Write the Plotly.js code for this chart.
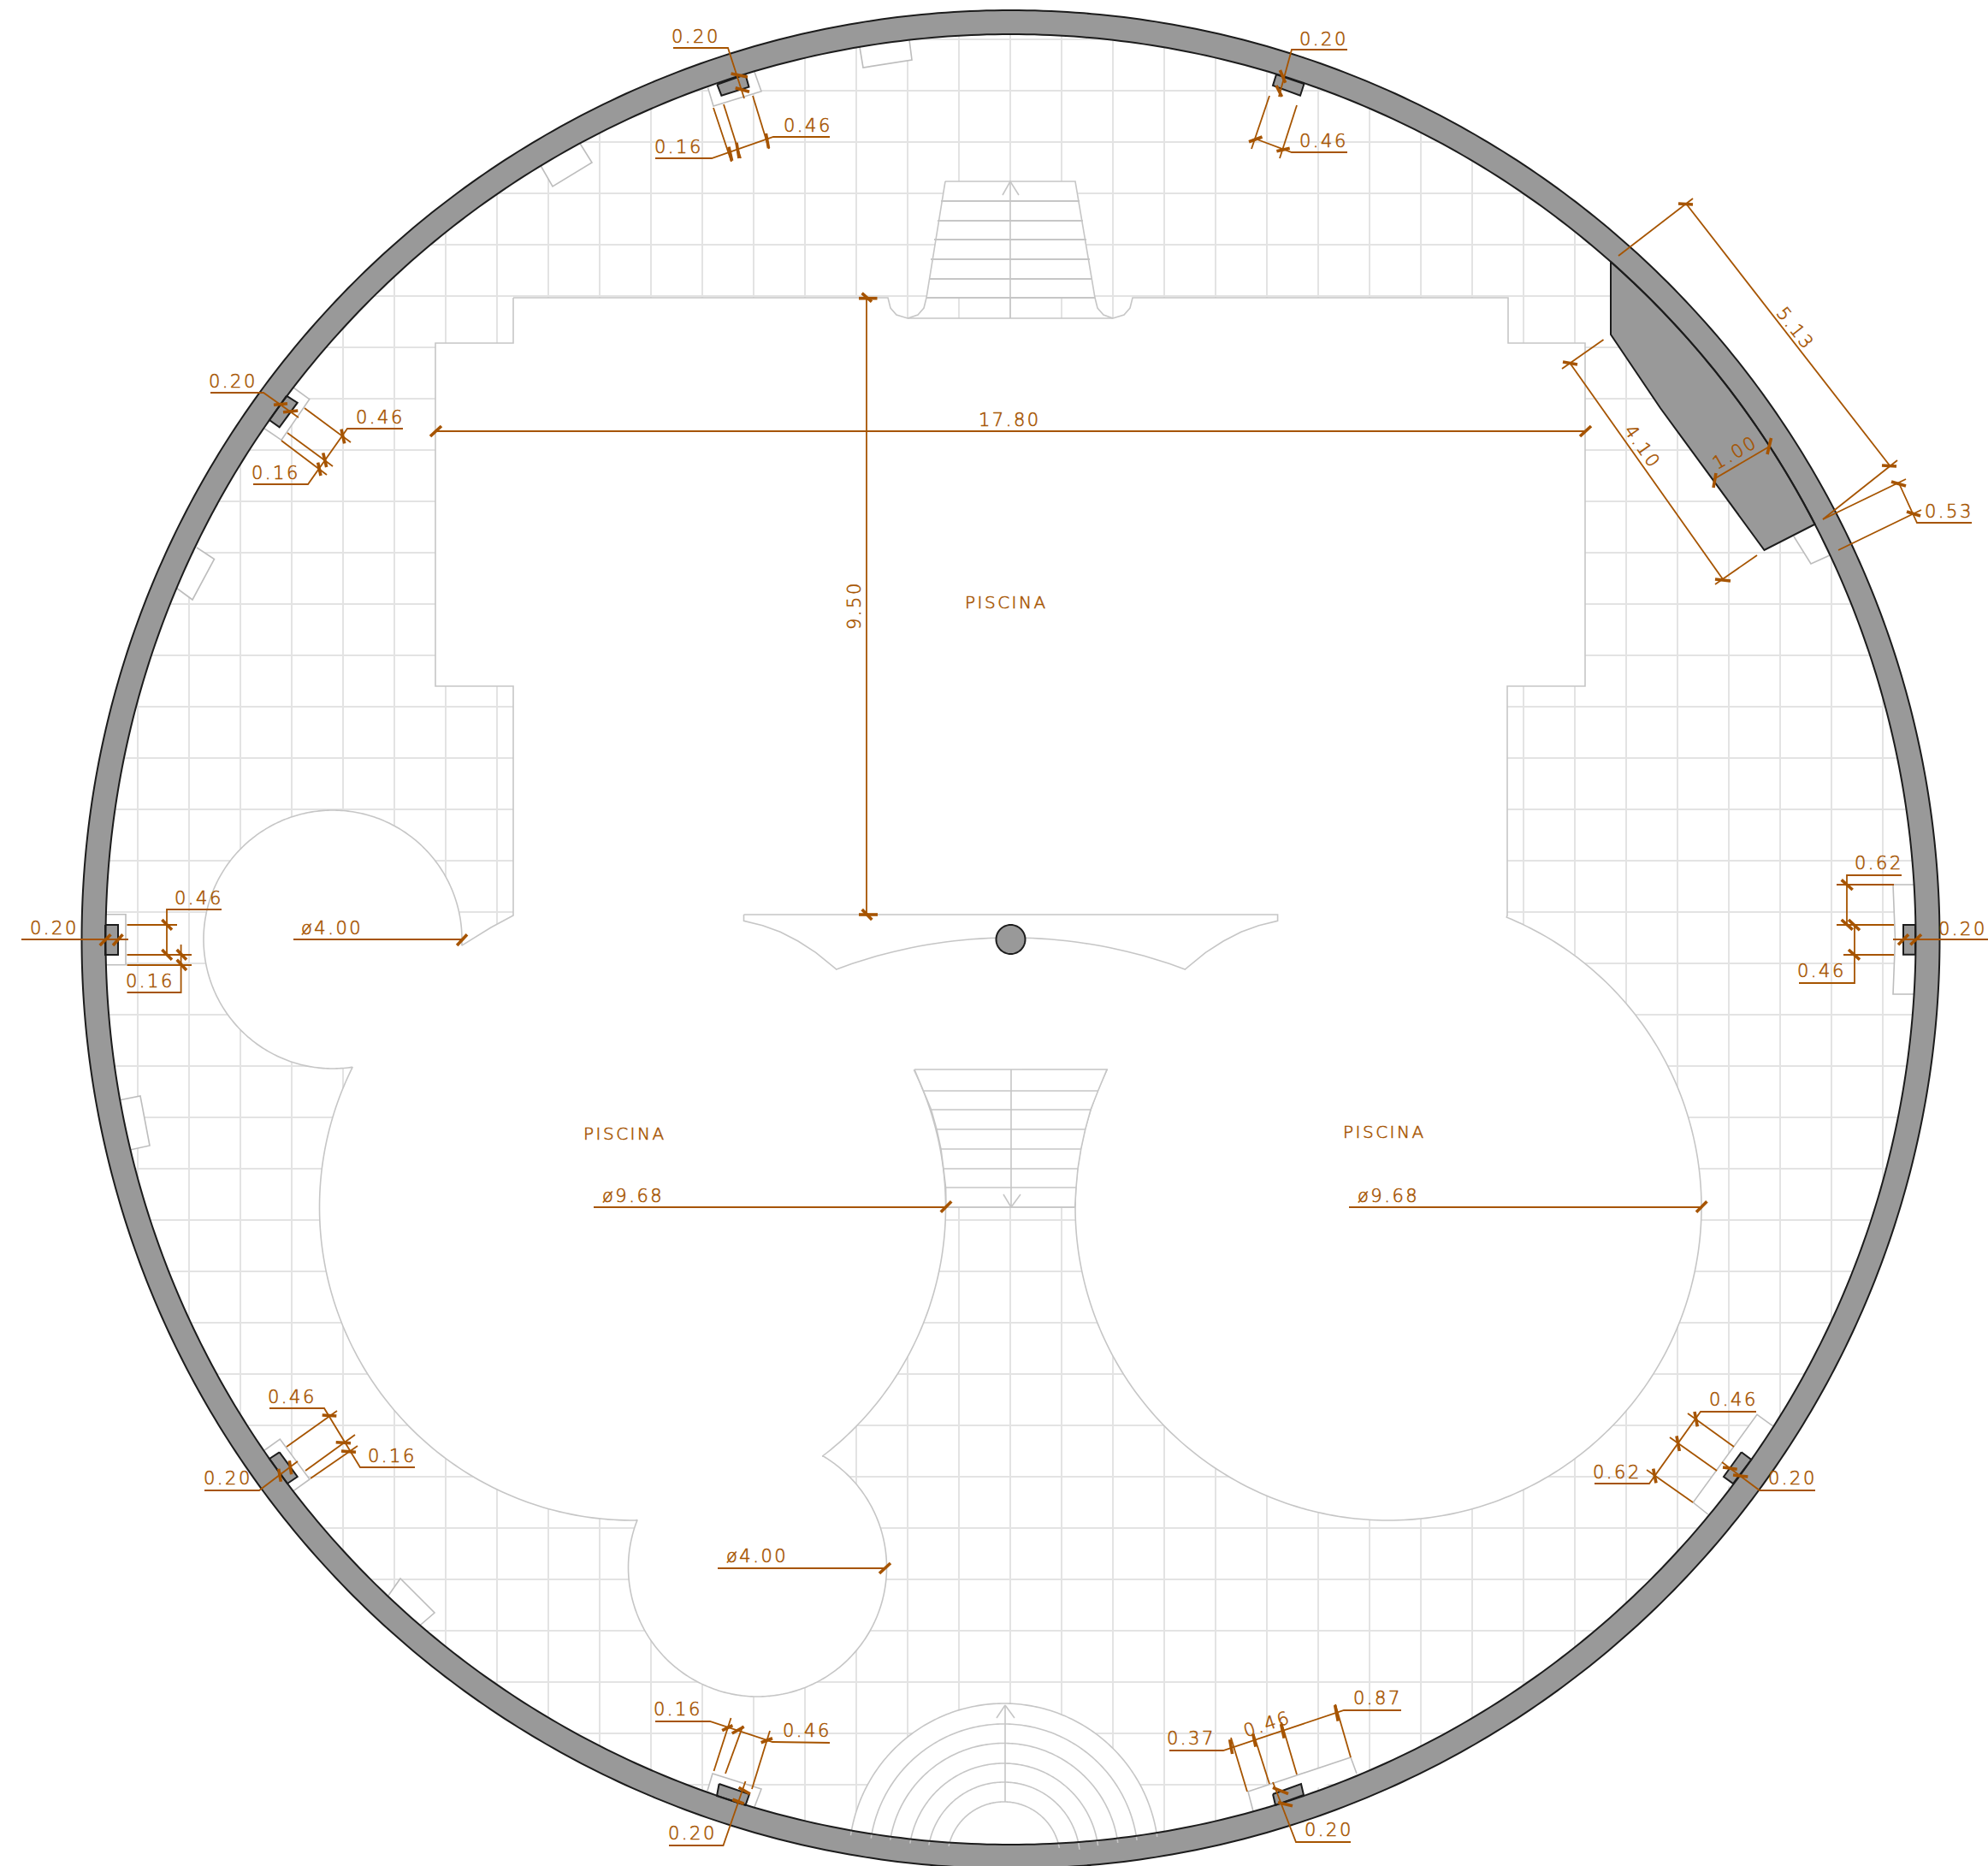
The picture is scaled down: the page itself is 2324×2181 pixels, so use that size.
<!DOCTYPE html>
<html>
<head>
<meta charset="utf-8">
<script src="https://cdn.plot.ly/plotly-3.0.1.min.js"></script>
<style>html,body{margin:0;padding:0;background:#fff}#plan{width:2324px;height:2181px}.annotation-text{letter-spacing:2.5px;stroke:#a65400;stroke-width:0.55px}</style>
</head>
<body>
<div id="plan"></div>
<script>
// ---------- plan data, in the drawing's own units ----------
const ringCenter = [1181.5, 1098];
const ringOuter = 1086;
const ringInner = 1058;
const gridXs = [161,221,281,341,401,461,521,581,641,701,761,821,881,941,1001,1061,1121,1181,1241,1301,1361,1421,1481,1541,1601,1661,1721,1781,1841,1901,1961,2021,2081,2141,2201];
const gridYs = [46,106,166,226,286,346,406,466,526,586,646,706,766,826,886,946,1006,1066,1126,1186,1246,1306,1366,1426,1486,1546,1606,1666,1726,1786,1846,1906,1966,2026,2086,2146];

// pool outline: corners and arcs [cx, cy, r, startDeg, endDeg]
const poolTop = [[600,348],[1038,348],[1041,360],[1048,368],[1061,372],[1301,372],[1314,368],[1321,360],[1324,348],[1763,348],[1763,401],[1853,401],[1853,802],[1762,802],[1762,1070]];
const rightPoolArc = [1623,1411,366,-67.8,206];
const leftPoolArcA = [739.5,1411,366,-25.9,52.7];
const lowerRoundArc = [885.5,1832,151,-59.3,201.6];
const leftPoolArcB = [739.5,1411,366,89.5,206.6];
const leftRoundArc = [389,1098,151,81.2,362.7];
const poolLeft = [[574,1084],[600,1070],[600,802],[509,802],[509,401],[600,401],[600,348]];

// stairs
const topStairOutline = [[1105,212],[1257,212],[1280,348],[1083,348],[1105,212]];
const topStairSteps = [[1100,235,1262,235],[1096,258,1266,258],[1092,280,1270,280],[1088,303,1274,303],[1087,326,1277,326],[1083,348,1280,348]];
const topStairCurves = [[[1083,348],[1080,360],[1073,368],[1061,372]],[[1280,348],[1283,360],[1290,368],[1301,372]],[[1181,372],[1181,212]],[[1172,228],[1181,212],[1191,228]]];
const lowStairOutline = [[1069,1250],[1294,1250],[1283.6,1275],[1275,1297],[1268.7,1320],[1263.7,1343],[1260,1366],[1258,1388],[1256.6,1411],[1106,1411],[1105.6,1388],[1103,1366],[1100,1343],[1095,1320],[1088.6,1297],[1079.5,1275],[1069,1250]];
const lowStairSteps = [[1079.5,1275,1283.6,1275],[1088.6,1297,1275,1297],[1095,1320,1268.7,1320],[1100,1343,1263.7,1343],[1103,1366,1260,1366],[1105.6,1388,1258,1388],[1106,1411,1256.6,1411],[1182,1250,1182,1411],[1173,1396,1182,1411],[1193,1396,1182,1411]];

// platform under the column
const platformLeft = [[869.5,1069],[869.5,1076.3],[891.5,1081.7],[912.2,1089.3],[933,1100],[953.7,1113.3],[977.4,1132.7]];
const platformArc = [1181.5,1677,581,-110.6,-69.4];
const platformRight = [[1385.7,1132.7],[1409.3,1113.3],[1430.1,1100],[1450.9,1089.3],[1471.6,1081.7],[1493.6,1076.3],[1493.6,1069],[869.5,1069]];
const columnCircle = [1181.5,1098,17,0,360];

// fan of steps at the bottom
const fanCenter = [1173.5,2172];
const fanRadii = [181,157,134.5,111,89,66];
const fanStart = [-171.5,-171.4,-170.9,-171,-170,-167.6];
const fanEnd = [-8,-7.7,-7.7,-7.7,-6.6,-10.6];
const fanBase = [[1353,2181],[994,2181]];
const fanAxis = [[1175,1993,1175,2106],[1165,2008,1175,1993],[1186,2008,1175,1993]];

// white wall niches (the open side of each runs along the wall)
const nicheBoxes = [
  [[827.6,102.7],[834,124],[890,106.7],[881.6,83]],
  [[1005,55],[1009,79],[1066,70],[1063,46.7]],
  [[630,190],[646,218],[692,190],[677,166]],
  [[343,453],[361.7,466.7],[329,514.3],[309.3,501]],
  [[204.5,686],[225,701],[250.5,653.5],[230,640]],
  [[123,1068.7],[147,1068.7],[147,1127.7],[123,1127.7]],
  [[140,1285.7],[164,1281],[175,1339],[152,1344]],
  [[309.3,1695],[327.3,1682],[362,1729],[343.3,1742.3]],
  [[449,1872],[468,1845],[508,1885],[486,1904]],
  [[827,2093],[833,2073],[890,2091],[882,2112]],
  [[1465,2117],[1459,2094],[1579,2054],[1586,2073]],
  [[1996.7,1770],[1979.3,1756],[2054,1653.3],[2072.3,1666.7]],
  [[2240,1034],[2213,1034],[2215.5,1098],[2213,1162],[2240,1162]],
  [[2097,627],[2117,659],[2139,649],[2122,613]]
];
// grey piers
const piers = [
  [[838.3,98.7],[843.4,111.7],[875.5,101.7],[871.4,87]],
  [[1492,87],[1488,100],[1520,111.7],[1524.5,98]],
  [[335,462.7],[347.7,470.7],[326.7,499.3],[315,491]],
  [[123,1081],[138,1081],[138,1116],[123,1116]],
  [[326.7,1697.3],[315,1705],[336,1734],[347.7,1726]],
  [[840.6,2085],[838,2099],[871.5,2110],[876,2097]],
  [[1488,2097],[1491,2110],[1524,2098],[1521,2085]],
  [[2035.7,1697.3],[2047.3,1706],[2026,1734],[2015,1726]],
  [[2239,1081],[2225,1081],[2225,1115.7],[2239,1115.7]]
];
// thick wall piece on the upper right
const wedgeInnerArc = [1181.5,1098,1058,-48.5,-27.3];
const wedgeOuterEdge = [[2062.5,643],[2003,561.7],[1941,477],[1883,391],[1883,306]];

// thin dimension and leader lines
const dimLines = [
  [[509,504],[1853,504]], [[1013,348],[1013,1069]],
  [[1971,238],[2209,544]], [[1892,299],[1979,232]], [[2131,607],[2218,538]],
  [[1835,424],[2014,677]], [[1826,431],[1874.5,397]], [[2005,683],[2054,649]],
  [[2003.5,560],[2068.7,521.7]],
  [[2131,607],[2228,560]], [[2149,643],[2246,596]], [[2220,565],[2241,611],[2305,611]],
  [[787,56],[851,56],[870,115]], [[970,160],[904,160],[832,185],[766,185]],
  [[834,126],[855,189]], [[846,122],[866,185]], [[880,112],[899,174]],
  [[1575,58],[1510,58],[1495,113]], [[1484,112],[1463,174]], [[1516,123],[1496,185]], [[1467,162],[1510,178],[1575,178]],
  [[246,459],[308,459],[349,488]], [[471,501],[406,501],[360,566],[296,566]],
  [[356,477],[410,517]], [[336,506],[389,545]], [[329,515],[382,555]],
  [[315,1646],[379,1646],[421,1715],[485,1715]], [[239,1742],[303,1742],[348,1708]],
  [[335,1691],[394,1649]], [[357,1719],[415,1677]], [[363,1728],[418,1690]],
  [[25,1098],[150,1098]], [[259,1063],[195,1063],[195,1116]],
  [[148.5,1081],[207,1081]], [[148.5,1116],[224,1116]], [[148.5,1128],[224,1128]],
  [[148.5,1160],[211.6,1160],[211.6,1104]],
  [[343,1098],[540,1098]], [[694,1411],[1106,1411]], [[1577,1411],[1989,1411]], [[839,1833],[1034,1833]],
  [[2223,1023],[2159,1023],[2159,1081]], [[2147,1034],[2214,1034]], [[2147,1081],[2214,1081]], [[2155,1116],[2214,1116]],
  [[2168,1081],[2168,1149],[2103,1149]], [[2213,1098],[2324,1098]],
  [[2053,1650],[1988,1650],[1928,1734],[1864,1734]],
  [[1973,1652],[2027,1691]], [[1952,1680],[2007,1719]], [[1925,1718],[1979,1756]],
  [[2122,1742],[2057,1742],[2013,1709]],
  [[1638,1999],[1571,1999],[1430,2046],[1367,2046]],
  [[1458,2094],[1439,2031]], [[1484,2085],[1465.5,2027]], [[1516,2074],[1498,2013]], [[1579,2054],[1561,1992]],
  [[1579,2153],[1515,2153],[1488,2083]],
  [[766,2012],[830,2012],[903,2036],[970,2037]],
  [[854.5,2008],[834.5,2070]], [[868.5,2017],[848,2073]], [[900,2023],[879,2091]],
  [[782,2157],[845.5,2157],[871.5,2082]]
];
// thick tick strokes
const dimTicks = [
  [503,510,516,498],[1847,510,1860,498],[1004,348.7,1025.5,348.7],[1007.6,342.7,1019,352.7],[1004,1069,1026,1069],[1007.7,1063,1019.3,1075],
  [1962,238,1979,239],[2200,544,2217,545],[1827,423,1844,426],[2005,677,2023,679],[2003,570,2006,553],[2066,531,2070.5,512],
  [2211,563,2228,568],[2229,598,2245,603],
  [854.6,86,874,90],[859.7,102.7,876,107.3],[852,171.7,855.6,188],[861,166.7,864,185],[895.4,156,898.5,173.3],
  [1496.4,82,1502.6,96.7],[1492,100,1498.5,113],[1460,165.7,1475.5,160],[1492.4,176.7,1507.7,173.3],
  [320,473.3,336,471.7],[331,481.7,348.3,480],[399,501.7,402.7,518.3],[377.7,529.3,381.7,546],[371.7,540.7,375,556],
  [376.7,1654,393.3,1655],[392.7,1685.7,410,1686.7],[399,1696,416,1697.3],[325.7,1716.7,328.3,1731.7],[338.3,1707.3,340.7,1723.3],
  [116.7,1105,129.4,1092.3],[132,1105,143.5,1092.3],[189.4,1075,201,1086.7],[189.4,1110,201,1121.7],[206.7,1110,218,1121.7],[206.7,1121.7,218,1134],
  [534.2,1105,546,1092.3],[1099.8,1416.7,1112.2,1404.3],[1983,1416.7,1995.4,1404.3],[1028,1839,1041,1827],
  [2152.7,1028.3,2165.7,1040],[2152.7,1075,2165.7,1086.7],[2161,1075,2174,1087.3],[2161,1110,2174,1121.7],[2219,1104.3,2231,1092.3],[2233.3,1104.3,2246,1092.3],
  [1981,1650,1984.3,1667.3],[1960,1678.3,1963.3,1696],[1932.7,1716.7,1936,1733.3],[2014,1715,2030.7,1717.3],[2026,1724,2043.3,1726],
  [1437.6,2033.3,1440.6,2050],[1464.8,2026.7,1467.9,2041.7],[1497.6,2015,1501.2,2031.7],[1560.6,1993,1564.2,2011.7],[1487.9,2089.3,1506,2096.7],[1494,2106.7,1511,2110.7],
  [844.2,2022.7,856.4,2016.7],[855.8,2026,869.7,2018.3],[889.7,2036.7,903,2031.7],[863.6,2089.3,876.9,2096.7],[856.4,2103.3,869.7,2108.3]
];

// labels
const labelText = ['17.80','9.50','5.13','4.10','1.00','0.53','PISCINA','PISCINA','PISCINA','ø9.68','ø9.68','ø4.00','ø4.00',
  '0.20','0.46','0.16','0.20','0.46','0.20','0.46','0.16','0.46','0.16','0.20','0.20','0.46','0.16','0.62','0.46','0.20','0.46','0.62','0.20','0.87','0.37','0.46','0.20','0.16','0.46','0.20'];
const labelX = [1180,999,2099,1920,2028.4,2278.6,1176.7,730.6,1618.3,739.5,1622.8,388.4,884.7,
  813.8,944.4,793.4,1547,1547,272.3,444.3,322.3,341.7,458.3,266,63,232.7,175.3,2196,2129.3,2294,2026.7,1890.7,2095,1610,1392.7,1481.8,1553.3,792,943.6,809];
const labelY = [491,708,383.5,521.7,529.3,597.7,704,1325,1323.4,1397.5,1397.5,1085,1818.5,
  43.3,146.7,172,46,164.5,445.7,487.7,552.7,1632.7,1701.7,1728.3,1085,1050,1147.3,1009.3,1135,1086,1636,1720.7,1728.3,1985,2031.7,2015,2139.3,1998.3,2023.3,2143.3];
const labelAngle = [0,-90,52,55,-30,0,0,0,0,0,0,0,0,
  0,0,0,0,0,0,0,0,0,0,0,0,0,0,0,0,0,0,0,0,0,0,-18,0,0,0,0];

// ---------- styles ----------
const DIM = '#a65400', POOL = '#c6c6c6', GRID = '#e3e3e3', WALL = '#999999', INK = '#1c1c1c';
const FONT = '"DejaVu Sans", sans-serif';

// ---------- helpers ----------
function arcPts(a, step) {
  const [cx, cy, r, s, e] = a, n = Math.max(2, Math.round(Math.abs(e - s) / (step || 1))), o = [];
  for (let i = 0; i <= n; i++) { const t = (s + (e - s) * i / n) * Math.PI / 180; o.push([cx + r * Math.cos(t), cy + r * Math.sin(t)]); }
  return o;
}
function xy(pts) { return {x: pts.map(p => p ? p[0] : null), y: pts.map(p => p ? p[1] : null)}; }
function joined(lists) { const o = []; lists.forEach(l => { l.forEach(p => o.push(p)); o.push(null); }); return o; }
function pairs(list) { return list.map(s => [[s[0], s[1]], [s[2], s[3]]]); }
function line(pts, color, width, extra) {
  return Object.assign({type: 'scatter', mode: 'lines', hoverinfo: 'skip', showlegend: false, line: {color, width, simplify: false}}, xy(pts), extra || {});
}
function filled(pts, fillcolor, color, width) { return line(pts, color, width, {fill: 'toself', fillcolor}); }

// ---------- assembled pieces ----------
const [cx0, cy0] = ringCenter;
const gridSegs = [];
gridXs.forEach(x => { const d = Math.sqrt(ringInner * ringInner - (x - cx0) * (x - cx0)); gridSegs.push([[x, cy0 - d], [x, cy0 + d]]); });
gridYs.forEach(y => { const d = Math.sqrt(ringInner * ringInner - (y - cy0) * (y - cy0)); gridSegs.push([[cx0 - d, y], [cx0 + d, y]]); });

const poolPts = [].concat(poolTop, arcPts(rightPoolArc), arcPts(leftPoolArcA), arcPts(lowerRoundArc), arcPts(leftPoolArcB), arcPts(leftRoundArc), poolLeft);
const ringFillPts = [].concat(arcPts([cx0, cy0, ringOuter, 0, 360], 0.5), arcPts([cx0, cy0, ringInner, 360, 0], 0.5));
const wedgePts = [].concat(arcPts(wedgeInnerArc, 0.5), wedgeOuterEdge);
const platformPts = [].concat(platformLeft, arcPts(platformArc), platformRight);
const fanArcs = fanRadii.map((r, i) => arcPts([fanCenter[0], fanCenter[1], r, fanStart[i], fanEnd[i]]));
const closed = p => p.concat([p[0]]);

const traces = [
  line(joined(gridSegs), GRID, 2),
  filled(poolPts, '#ffffff', POOL, 1.6),
  filled(topStairOutline, '#ffffff', POOL, 1.6),
  filled(lowStairOutline, '#ffffff', POOL, 1.6),
  line(joined(pairs(topStairSteps)), POOL, 2),
  line(joined(topStairCurves), POOL, 1.6),
  line(joined(pairs(lowStairSteps)), POOL, 1.6),
  line(platformPts, POOL, 1.6),
  line(fanArcs[0].concat(fanBase), 'rgba(0,0,0,0)', 0, {fill: 'toself', fillcolor: '#ffffff'})
];
nicheBoxes.forEach(b => traces.push(line(b, '#bdbdbd', 1.6, {fill: 'toself', fillcolor: '#ffffff'})));
traces.push(filled(arcPts(columnCircle, 6), WALL, INK, 2));
traces.push(line(ringFillPts, 'rgba(0,0,0,0)', 0, {fill: 'toself', fillcolor: WALL}));
traces.push(line(joined(fanArcs), POOL, 1.6));
traces.push(line(joined(pairs(fanAxis)), POOL, 1.6));
traces.push(filled(wedgePts, WALL, INK, 2));
piers.forEach(p => traces.push(filled(closed(p), WALL, INK, 2)));
traces.push(line(joined([arcPts([cx0, cy0, ringOuter, 0, 360], 0.5), arcPts([cx0, cy0, ringInner, 0, 360], 0.5)]), INK, 2));
traces.push(line(joined(dimLines), DIM, 1.8));
traces.push(line(joined(pairs(dimTicks)), DIM, 3.6));

const annotations = labelText.map((t, i) => ({
  x: labelX[i], y: labelY[i], xref: 'x', yref: 'y', text: t, showarrow: false, textangle: labelAngle[i],
  xanchor: 'center', yanchor: 'middle', font: {family: FONT, size: t === 'PISCINA' ? 20 : 21, weight: 200, color: DIM}
}));

Plotly.newPlot('plan', traces, {
  width: 2324, height: 2181, margin: {l: 0, r: 0, t: 0, b: 0}, paper_bgcolor: '#ffffff', plot_bgcolor: '#ffffff', showlegend: false,
  xaxis: {range: [0, 2324], visible: false, fixedrange: true},
  yaxis: {range: [2181, 0], visible: false, fixedrange: true},
  annotations
}, {displayModeBar: false, staticPlot: true});
</script>
</body>
</html>
